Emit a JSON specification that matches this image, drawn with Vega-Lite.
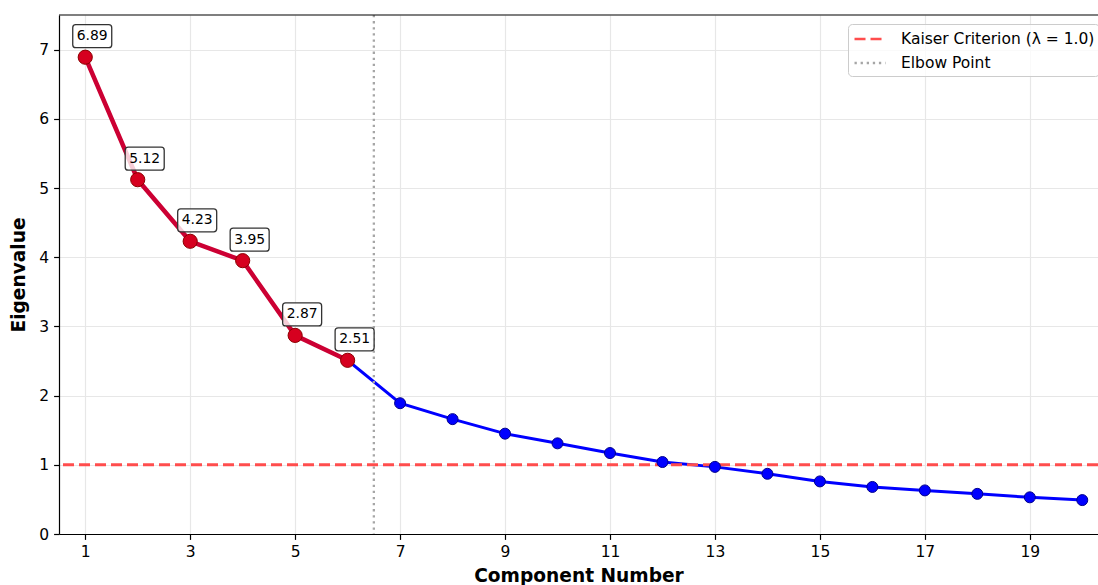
{
  "$schema": "https://vega.github.io/schema/vega-lite/v6.json",
  "width": 1039,
  "height": 519,
  "padding": {"left": 59, "top": 15, "right": 0, "bottom": 51},
  "autosize": {"type": "none"},
  "background": "white",
  "config": {
    "font": "DejaVu Sans",
    "view": {"stroke": null},
    "axis": {
      "domainColor": "#000000",
      "domainWidth": 1.2,
      "tickColor": "#000000",
      "tickWidth": 1.2,
      "tickSize": 5.4,
      "labelFont": "DejaVu Sans",
      "labelFontSize": 15.5,
      "labelColor": "#000000",
      "labelPadding": 5,
      "gridColor": "#e7e7e7",
      "gridWidth": 1.2,
      "titleFont": "DejaVu Sans",
      "titleFontSize": 18.6,
      "titleFontWeight": "bold",
      "titleColor": "#000000"
    }
  },
  "datasets": {
    "eig": [
      {"c": 1, "ev": 6.89},
      {"c": 2, "ev": 5.12},
      {"c": 3, "ev": 4.23},
      {"c": 4, "ev": 3.95},
      {"c": 5, "ev": 2.87},
      {"c": 6, "ev": 2.51},
      {"c": 7, "ev": 1.89},
      {"c": 8, "ev": 1.66},
      {"c": 9, "ev": 1.45},
      {"c": 10, "ev": 1.31},
      {"c": 11, "ev": 1.17},
      {"c": 12, "ev": 1.04},
      {"c": 13, "ev": 0.97},
      {"c": 14, "ev": 0.87},
      {"c": 15, "ev": 0.76},
      {"c": 16, "ev": 0.68},
      {"c": 17, "ev": 0.63},
      {"c": 18, "ev": 0.58},
      {"c": 19, "ev": 0.53},
      {"c": 20, "ev": 0.49}
    ],
    "refs": [
      {"label": "Kaiser Criterion (λ = 1.0)", "ev": 1},
      {"label": "Elbow Point", "c": 6.5}
    ]
  },
  "layer": [
    {
      "data": {"name": "eig"},
      "mark": {"type": "line", "color": "#0000ff", "strokeWidth": 3},
      "encoding": {
        "x": {"field": "c", "type": "quantitative", "scale": {"domain": [0.5, 20.3], "nice": false, "zero": false},
              "axis": {"title": "Component Number", "values": [1, 3, 5, 7, 9, 11, 13, 15, 17, 19], "format": "d", "grid": true, "titlePadding": 7}},
        "y": {"field": "ev", "type": "quantitative", "scale": {"domain": [0, 7.5], "nice": false, "zero": true},
              "axis": {"title": "Eigenvalue", "values": [0, 1, 2, 3, 4, 5, 6, 7], "format": "d", "grid": true, "titlePadding": 10}}
      }
    },
    {
      "data": {"name": "refs"},
      "transform": [{"filter": "datum.ev != null"}],
      "mark": {"type": "rule", "strokeWidth": 3},
      "encoding": {
        "y": {"field": "ev", "type": "quantitative"},
        "color": {"field": "label", "type": "nominal",
          "scale": {"domain": ["Kaiser Criterion (λ = 1.0)", "Elbow Point"], "range": ["#ff4d4d", "#a6a6a6"]},
          "legend": {"orient": "none", "legendX": 789, "legendY": 9, "title": null, "symbolType": "M-1.63,0L1.63,0", "symbolSize": 361, "symbolOffset": 7, "symbolStrokeWidth": 2.5, "labelFontSize": 15.5, "labelFont": "DejaVu Sans", "labelColor": "#000000", "labelLimit": 500, "fillColor": "rgba(255,255,255,0.8)", "strokeColor": "#cccccc", "cornerRadius": 4, "padding": 4, "rowPadding": 4, "labelOffset": 20}},
        "strokeDash": {"field": "label", "type": "nominal",
          "scale": {"domain": ["Kaiser Criterion (λ = 1.0)", "Elbow Point"], "range": [[11, 5], [2.3, 3.8]]},
          "legend": {"orient": "none", "legendX": 789, "legendY": 9, "title": null, "symbolType": "M-1.63,0L1.63,0", "symbolSize": 361, "symbolOffset": 7, "symbolStrokeWidth": 2.5, "labelFontSize": 15.5, "labelFont": "DejaVu Sans", "labelColor": "#000000", "labelLimit": 500, "fillColor": "rgba(255,255,255,0.8)", "strokeColor": "#cccccc", "cornerRadius": 4, "padding": 4, "rowPadding": 4, "labelOffset": 20}}
      }
    },
    {
      "data": {"name": "refs"},
      "transform": [{"filter": "datum.c != null"}],
      "mark": {"type": "rule", "strokeWidth": 2.3},
      "encoding": {
        "x": {"field": "c", "type": "quantitative"},
        "color": {"field": "label", "type": "nominal"},
        "strokeDash": {"field": "label", "type": "nominal"}
      }
    },
    {
      "data": {"name": "eig"},
      "mark": {"type": "point", "filled": true, "fill": "#0000ff", "stroke": "#00008b", "strokeWidth": 1, "size": 121, "opacity": 1},
      "encoding": {
        "x": {"field": "c", "type": "quantitative"},
        "y": {"field": "ev", "type": "quantitative"}
      }
    },
    {
      "data": {"name": "eig"},
      "transform": [{"filter": "datum.c <= 6"}],
      "mark": {"type": "line", "color": "#cc0033", "strokeWidth": 4.5},
      "encoding": {
        "x": {"field": "c", "type": "quantitative"},
        "y": {"field": "ev", "type": "quantitative"}
      }
    },
    {
      "data": {"name": "eig"},
      "transform": [{"filter": "datum.c <= 6"}],
      "mark": {"type": "point", "filled": true, "fill": "#d6001f", "stroke": "#8b0000", "strokeWidth": 1, "size": 201, "opacity": 1},
      "encoding": {
        "x": {"field": "c", "type": "quantitative"},
        "y": {"field": "ev", "type": "quantitative"}
      }
    },
    {
      "data": {"name": "eig"},
      "transform": [{"filter": "datum.c <= 6"}],
      "mark": {"type": "point", "shape": "M-0.825,-0.575L0.825,-0.575Q0.975,-0.575 0.975,-0.425L0.975,0.425Q0.975,0.575 0.825,0.575L-0.825,0.575Q-0.975,0.575 -0.975,0.425L-0.975,-0.425Q-0.975,-0.575 -0.825,-0.575Z",
               "size": 1600, "filled": true, "fill": "#ffffff", "fillOpacity": 0.8, "stroke": "#333333", "strokeWidth": 1.3, "strokeOpacity": 1, "opacity": 1, "xOffset": 7, "yOffset": -21},
      "encoding": {
        "x": {"field": "c", "type": "quantitative"},
        "y": {"field": "ev", "type": "quantitative"}
      }
    },
    {
      "data": {"name": "eig"},
      "transform": [{"filter": "datum.c <= 6"}],
      "mark": {"type": "text", "dx": 7, "dy": -21, "fontSize": 13.9, "font": "DejaVu Sans", "align": "center", "baseline": "middle", "color": "#000000"},
      "encoding": {
        "x": {"field": "c", "type": "quantitative"},
        "y": {"field": "ev", "type": "quantitative"},
        "text": {"field": "ev", "type": "quantitative", "format": ".2f"}
      }
    },
    {
      "data": {"values": [{}]},
      "mark": {"type": "rule", "color": "#000000", "strokeWidth": 1.2},
      "encoding": {"y": {"datum": 7.5}}
    }
  ]
}
